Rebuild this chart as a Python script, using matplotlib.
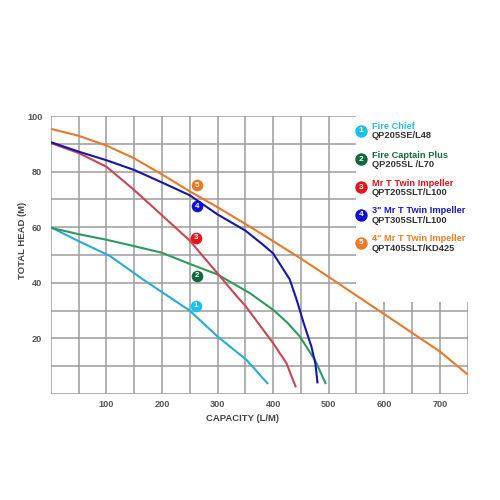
import matplotlib
matplotlib.use('Agg')
import matplotlib.pyplot as plt
import numpy as np

plt.rcParams['font.family'] = ['Liberation Sans', 'DejaVu Sans']
plt.rcParams['font.weight'] = 'bold'

# pump curves: capacity (L/M) vs total head (M)
chief_x = [0, 50, 107, 166, 220, 250, 300, 352, 391]
chief_y = [60, 55, 49.6, 41.2, 34, 30, 20.7, 12.3, 3.6]

captain_x = [0, 50, 100, 150, 200, 250, 300, 358, 400, 425, 448, 475, 495]
captain_y = [59.8, 57.5, 55.5, 53.2, 50.8, 46.8, 43, 36.3, 30.3, 25.8, 20.7, 12.3, 3.6]

mrt_x = [0, 50, 100, 150, 200, 250, 300, 335, 351, 400, 424, 441]
mrt_y = [90.3, 86.7, 81.8, 73.4, 64.3, 55.2, 43.4, 35.1, 31.5, 18.3, 11.1, 2.4]

mrt3_x = [0, 50, 100, 150, 200, 250, 300, 350, 380, 400, 430, 443, 455, 469, 476, 480]
mrt3_y = [90.6, 87.2, 84.1, 80.6, 76.1, 71.5, 64.6, 58.8, 54, 50.6, 41.2, 33.5, 25.5, 17, 11, 3.8]

mrt4_x = [0, 50, 100, 150, 200, 250, 300, 350, 400, 450, 500, 550, 600, 650, 700, 750]
mrt4_y = [95.4, 92.9, 89.4, 84.8, 79, 72.9, 67.2, 61.2, 55, 48.7, 42.1, 35.4, 28.7, 22, 15.3, 7]

line_colors = ['#2aaad8', '#2e9a5e', '#cc4652', '#1616aa', '#e8792a']
badge_colors = ['#18c0ec', '#0e6a3c', '#e4141c', '#1010d0', '#f07a22']
title_colors = ['#26bde8', '#1c6a3c', '#de1420', '#1818cc', '#ee7c22']

# numbered badges on the chart
badge_x = [261, 263, 262, 263, 264]
badge_y = [31.8, 42.6, 56.2, 67.6, 75.1]

names = ['Fire Chief', 'Fire Captain Plus', 'Mr T Twin Impeller',
         '3" Mr T Twin Impeller', '4" Mr T Twin Impeller']
models = ['QP205SE/L48', 'QP205SL /L70', 'QPT205SLT/L100',
          'QPT305SLT/L100', 'QPT405SLT/KD425']

x_ticks = [100, 200, 300, 400, 500, 600, 700]
y_ticks = [20, 40, 60, 80, 100]

fig = plt.figure(figsize=(5, 5), dpi=100)
ax = fig.add_axes([0.1014, 0.212, 0.834, 0.556])
ax.set_xlim(0, 750)
ax.set_ylim(0, 100)
for s in ax.spines.values():
    s.set_visible(False)

# grid: the upper right corner is left blank for the legend
grid_c = '#9c9c9c'
for gy in np.arange(0, 101, 10):
    ax.hlines(gy, 0, 750 if gy <= 30 else 550, color=grid_c, lw=1.1, zorder=1)
for gx in np.arange(0, 751, 50):
    ax.vlines(gx, 0, 100 if gx <= 500 else 33, color=grid_c, lw=1.1, zorder=1)

curves = [(chief_x, chief_y), (captain_x, captain_y), (mrt_x, mrt_y),
          (mrt3_x, mrt3_y), (mrt4_x, mrt4_y)]
for (cx, cy), c in zip(curves, line_colors):
    ax.plot(cx, cy, color=c, lw=1.5, zorder=3, solid_capstyle='butt',
            solid_joinstyle='round')

for i, (bx, by) in enumerate(zip(badge_x, badge_y)):
    ax.scatter(bx, by, s=70, color=badge_colors[i], zorder=5, linewidths=0)
    ax.text(bx, by, str(i + 1), color='white', fontsize=5.8, fontweight='bold',
            ha='center', va='center', zorder=6)

ax.set_xticks(x_ticks)
ax.set_yticks(y_ticks)
ax.tick_params(length=0, labelsize=6.6, colors='#555555')
ax.tick_params(axis='x', pad=4)
ax.tick_params(axis='y', pad=6)
for lab in ax.get_xticklabels() + ax.get_yticklabels():
    lab.set_fontweight('bold')

ax.set_xlabel('CAPACITY (L/M)', fontsize=6.8, color='#444444', fontweight='bold')
ax.set_ylabel('TOTAL HEAD (M)', fontsize=6.8, color='#444444', fontweight='bold')
ax.xaxis.set_label_coords(0.461, -0.072)
ax.yaxis.set_label_coords(-0.057, 0.554)

# legend drawn in pixel space (y grows downward)
lg = fig.add_axes([0, 0, 1, 1])
lg.set_xlim(0, 500)
lg.set_ylim(500, 0)
lg.axis('off')
lg.patch.set_alpha(0)
row_y = [129, 157.6, 185.6, 213.4, 241.2]   # baselines of the name lines
for i, ry in enumerate(row_y):
    lg.scatter(361, ry + 1.5, s=80, color=badge_colors[i], linewidths=0)
    lg.text(361, ry + 1.5, str(i + 1), color='white', fontsize=6,
            fontweight='bold', ha='center', va='center')
    lg.text(372, ry, names[i], color=title_colors[i], fontsize=6.7,
            fontweight='bold', ha='left', va='baseline')
    lg.text(372, ry + 9.4, models[i], color='#333333', fontsize=6.7,
            fontweight='bold', ha='left', va='baseline')

fig.savefig('out.png', dpi=100)
